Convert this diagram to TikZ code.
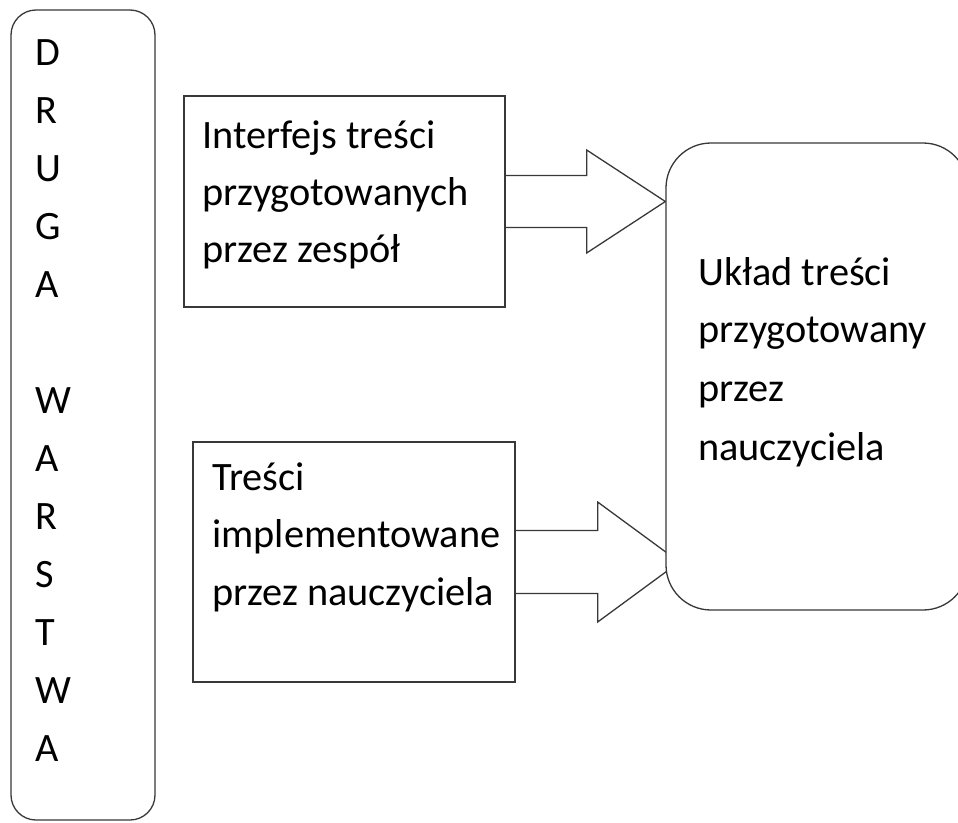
\documentclass[tikz,border=0pt]{standalone}
\usepackage{fontspec}
\setmainfont{Carlito}
\usetikzlibrary{backgrounds,calc}
\begin{document}
\begin{tikzpicture}[x=1pt,y=-1pt,
  outline/.style={draw=black!78, line width=1.3pt},
  sqbox/.style={outline, inner sep=0pt, fill=white},
  rbox/.style={outline, inner sep=0pt, fill=white, rounded corners=#1},
  blockarrow/.style={outline, line join=miter},
  txt/.style={anchor=base west, inner sep=0pt, text=black, font=\fontsize{40.3}{57}\selectfont}]
\useasboundingbox (0,0) rectangle (958,822);

% boxes
\node[rbox=25pt, minimum width=144pt, minimum height=810pt] (side) at (83,415) {};
\node[sqbox, minimum width=321pt, minimum height=211pt] (b1) at (344.5,201.5) {};
\node[sqbox, minimum width=322pt, minimum height=240pt] (b2) at (354,562) {};
\node[rbox=45pt, minimum width=302pt, minimum height=467pt] (big) at (817,376.5) {};

% block arrows (behind the boxes)
\begin{pgfonlayer}{background}
\draw[blockarrow] ($(b1.east)+(0,-26)$) -- ++(81,0) -- ++(0,-25.5)
  -- (b1.east -| big.west)
  -- ($(b1.east)+(81,51.5)$) -- ++(0,-25.5) -- ($(b1.east)+(0,26)$);
\draw[blockarrow] ($(b2.east)+(0,-31.5)$) -- ++(82,0) -- ++(0,-28.5)
  -- ($(b2.east -| big.west)+(14,0)$)
  -- ($(b2.east)+(82,60)$) -- ++(0,-28.5) -- ($(b2.east)+(0,31.5)$);
\end{pgfonlayer}

% vertical letters
\foreach \c/\k in {D/0,R/1,U/2,G/3,A/4,W/6,A/7,R/8,S/9,T/10,W/11,A/12}
  \node[txt] (L\k) at (35,65+58*\k) {\c};

% texts
\node[txt] (t1a) at (202,148) {Interfejs treści};
\node[txt] (t1b) at (202,205) {przygotowanych};
\node[txt] (t1c) at (202,262) {przez zespół};

\node[txt] (t2a) at (212,490) {Treści};
\node[txt] (t2b) at (212,547) {implementowane};
\node[txt] (t2c) at (212,605) {przez nauczyciela};

\node[txt] (t3a) at (698,285) {Układ treści};
\node[txt] (t3b) at (698,342) {przygotowany};
\node[txt] (t3c) at (698,401) {przez};
\node[txt] (t3d) at (698,460) {nauczyciela};
\end{tikzpicture}
\end{document}
